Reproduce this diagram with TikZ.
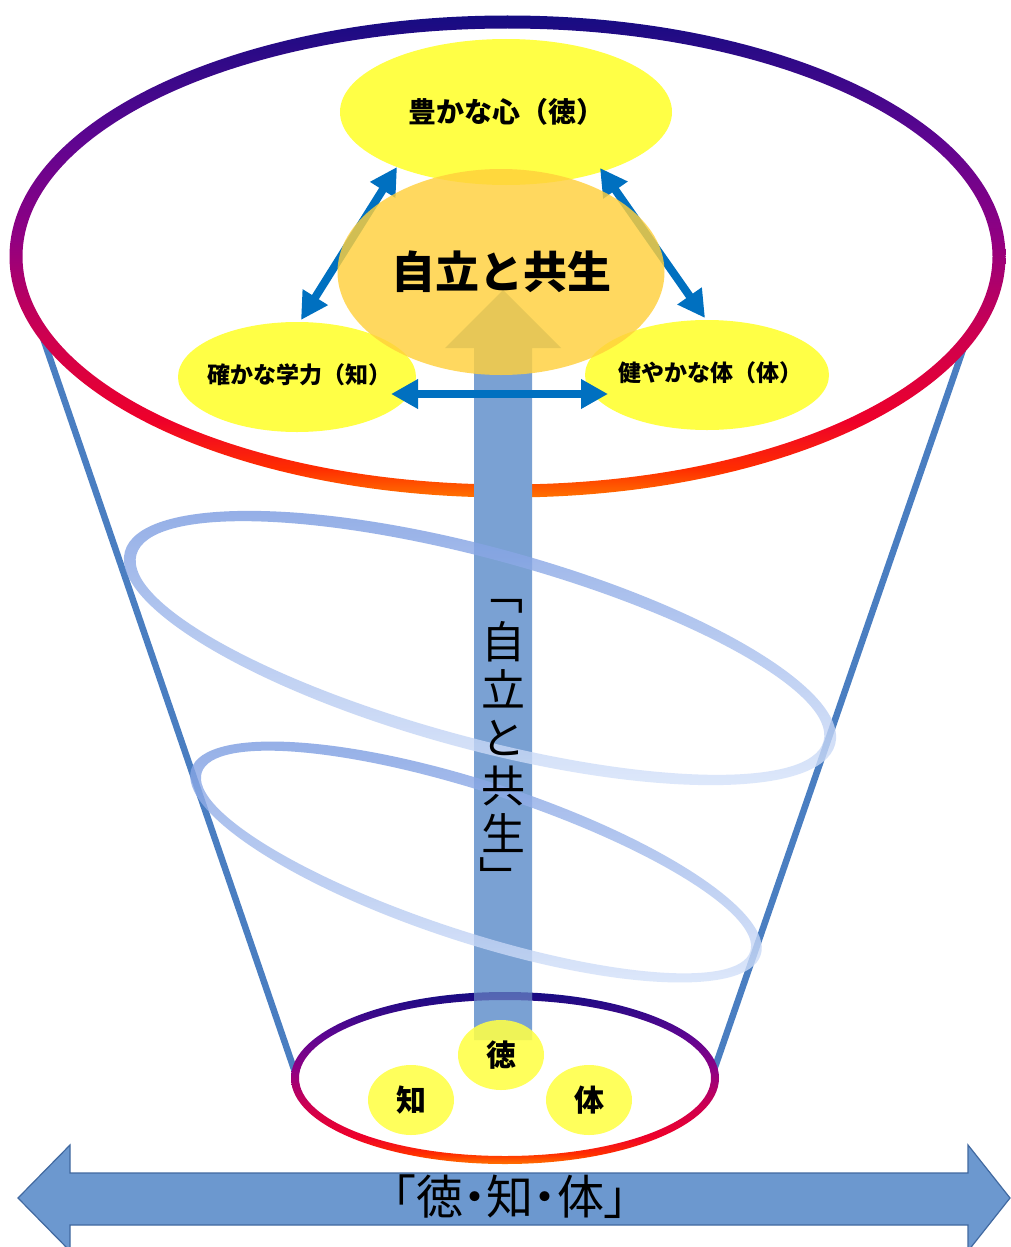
\documentclass[tikz,border=0pt]{standalone}
\usepackage{fontspec}
\newfontfamily\jp{Noto Sans CJK JP}
\newfontfamily\jpp{Noto Sans CJK JP}[RawFeature=+palt]
\usetikzlibrary{arrows.meta,shapes.geometric}
\definecolor{rgO}{RGB}{255,115,0}
\definecolor{rgRO}{RGB}{255,45,0}
\definecolor{rgR}{RGB}{238,0,42}
\definecolor{rgC}{RGB}{205,0,80}
\definecolor{rgM}{RGB}{145,0,130}
\definecolor{rgP}{RGB}{95,5,145}
\definecolor{rgN}{RGB}{22,12,130}
\definecolor{kyellow}{RGB}{255,255,70}
\definecolor{korange}{RGB}{255,208,60}
\definecolor{arrowblue}{RGB}{0,112,192}
\definecolor{coneblue}{RGB}{74,126,193}
\definecolor{barblue}{RGB}{122,161,211}
\definecolor{spdark}{RGB}{118,152,224}
\definecolor{splight}{RGB}{218,230,251}
\definecolor{arrfill}{RGB}{108,152,207}
\definecolor{arrline}{RGB}{65,105,160}
\pgfdeclareverticalshading{ringgrad}{100bp}{color(0bp)=(rgO); color(25bp)=(rgO); color(28bp)=(rgRO); color(33bp)=(rgR); color(42bp)=(rgC); color(52bp)=(rgM); color(62bp)=(rgP); color(75bp)=(rgN); color(100bp)=(rgN)}
\tikzset{
  yel/.style={ellipse, fill=kyellow, inner sep=0pt, text=black},
  lbl/.style={inner sep=0pt, text=black},
  vfont/.style={inner sep=0pt, font=\jp\fontsize{44}{48}\selectfont},
  conarrow/.style={draw=arrowblue, line width=8pt, {Triangle[length=27pt,width=28pt]}-{Triangle[length=27pt,width=28pt]}},
  cone/.style={draw=coneblue, line width=6.5pt},
  spiral/.style={top color=spdark, bottom color=splight, fill opacity=0.8},
}
\begin{document}
\begin{tikzpicture}[x=1pt,y=-1pt]
\fill[white] (0,0) rectangle (1011,1247);
\useasboundingbox (0,0) rectangle (1011,1247);

% cone lines
\coordinate (cl1) at (42,335); \coordinate (cl2) at (296,1075);
\coordinate (cr1) at (968,335); \coordinate (cr2) at (714,1070);
\draw[cone] (cl1) -- (cl2);
\draw[cone] (cr1) -- (cr2);

% top ring
\shade[shading=ringgrad] (1005.5,256.5) arc[start angle=0,end angle=360,x radius=498,y radius=241] -- cycle
  (992.5,256.5) arc[start angle=0,end angle=-360,x radius=485,y radius=228] -- cycle;

% bottom ring
\shade[shading=ringgrad] (719,1078) arc[start angle=0,end angle=360,x radius=214,y radius=86] -- cycle
  (711,1078) arc[start angle=0,end angle=-360,x radius=206,y radius=78] -- cycle;

% central vertical arrow
\fill[barblue] (474,1040) -- (474,348) -- (445,348) -- (503,290) -- (561,348) -- (532,348) -- (532,1040) -- cycle;

% bottom ring seen through the bar
\begin{scope}
\clip (474,980) rectangle (532,1040);
\shade[shading=ringgrad, fill opacity=0.4] (719,1078) arc[start angle=0,end angle=360,x radius=214,y radius=86] -- cycle
  (711,1078) arc[start angle=0,end angle=-360,x radius=206,y radius=78] -- cycle;
\end{scope}

% spiral ellipses
\begin{scope}[shift={(480,648)}, rotate=-15.2]
\shade[spiral] (368,0) arc[start angle=0,end angle=360,x radius=368,y radius=101] -- cycle
  (356,0) arc[start angle=0,end angle=-360,x radius=356,y radius=89] -- cycle;
\end{scope}
\begin{scope}[shift={(476,862)}, rotate=-18.1]
\shade[spiral] (299.5,0) arc[start angle=0,end angle=360,x radius=299.5,y radius=80.5] -- cycle
  (288.5,0) arc[start angle=0,end angle=-360,x radius=288.5,y radius=69.5] -- cycle;
\end{scope}

% vertical text
\node[vfont] (vbr1) at (501,606.5) {﹁};
\node[vfont, align=center] (vtext) at (503,737) {自\\立\\と\\共\\生};
\node[vfont] (vbr2) at (501,876) {﹂};

% yellow ellipses
\node[yel, minimum width=332pt, minimum height=146pt] (kokoro) at (506,112) {};
\node[lbl, font=\jp\bfseries\fontsize{28}{30}\selectfont] (kokorot) at (kokoro.center) {豊かな心（徳）};
\node[yel, minimum width=238pt, minimum height=110pt] (gaku) at (297,377) {};
\node[lbl, font=\jp\bfseries\fontsize{23}{25}\selectfont] (gakut) at (299,375) {確かな学力（知）};
\node[yel, minimum width=244pt, minimum height=110pt] (karada) at (707,375) {};
\node[lbl, font=\jp\bfseries\fontsize{23}{25}\selectfont] (karadat) at (710,373) {健やかな体（体）};

% diagonal arrows
\coordinate (d1a) at (397,167); \coordinate (d1b) at (301,320);
\coordinate (d2a) at (600,168); \coordinate (d2b) at (705,318);
\draw[conarrow] (d1a) -- (d1b);
\draw[conarrow] (d2a) -- (d2b);

% central orange ellipse
\node[ellipse, fill=korange, fill opacity=0.82, text opacity=1, minimum width=327pt, minimum height=206pt, inner sep=0pt, font=\jp\bfseries\fontsize{44}{46}\selectfont] (jiritsu) at (501,272) {自立と共生};

% horizontal arrow
\coordinate (h1) at (391,394); \coordinate (h2) at (608,394);
\draw[conarrow] (h1) -- (h2);

% small circles
\node[yel, fill opacity=0.88, text opacity=1, minimum width=86pt, minimum height=70pt, font=\jp\bfseries\fontsize{30}{32}\selectfont] (toku) at (501,1055) {徳};
\node[yel, fill opacity=0.88, text opacity=1, minimum width=86pt, minimum height=70pt, font=\jp\bfseries\fontsize{30}{32}\selectfont] (chi) at (411,1100) {知};
\node[yel, fill opacity=0.88, text opacity=1, minimum width=86pt, minimum height=70pt, font=\jp\bfseries\fontsize{30}{32}\selectfont] (tai) at (589,1100) {体};

% bottom double arrow
\filldraw[fill=arrfill, draw=arrline, line width=1.2pt] (18,1198) -- (70,1145) -- (70,1173) -- (968,1173) -- (968,1145) -- (1010,1198) -- (968,1251) -- (968,1225) -- (70,1225) -- (70,1251) -- cycle;
\node[font=\jpp\fontsize{47}{50}\selectfont, inner sep=0pt] (tokuchitai) at (510,1197) {「徳・知・体」};
\end{tikzpicture}
\end{document}
